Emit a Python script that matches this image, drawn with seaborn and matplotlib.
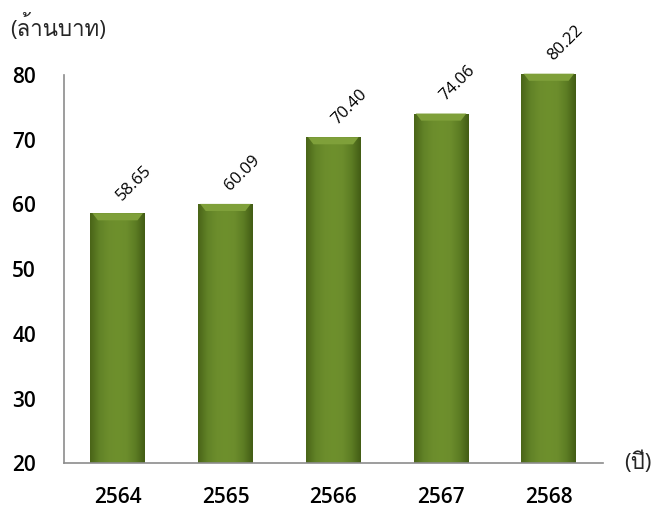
import numpy as np
import pandas as pd
import seaborn as sns
import matplotlib.pyplot as plt
from matplotlib import font_manager
from matplotlib.colors import LinearSegmentedColormap
from fontTools.ttLib import TTFont

# Data
years = ['2564', '2565', '2566', '2567', '2568']
values = [58.65, 60.09, 70.40, 74.06, 80.22]
y_label = '(ล้านบาท)'
x_label = '(ปี)'

df = pd.DataFrame({'year': years, 'value': values})

# look for installed families that can draw Thai
thai_fams = []
for f in font_manager.fontManager.ttflist:
    try:
        cmap = TTFont(f.fname, fontNumber=0, lazy=True).getBestCmap()
    except Exception:
        continue
    if cmap and 0x0E1A in cmap and f.name not in thai_fams:
        thai_fams.append(f.name)

sns.set_style('white')
plt.rcParams['font.family'] = ['Open Sans', 'Noto Sans'] + thai_fams + ['DejaVu Sans']

fig = plt.figure(figsize=(6.58, 5.17), dpi=100)
ax = fig.add_axes([0.097, 0.104, 0.819, 0.757])

sns.barplot(data=df, x='year', y='value', color='#6b8a2a', width=0.51,
            saturation=1, ax=ax)

# cylinder-like shading on each bar
bar_cmap = LinearSegmentedColormap.from_list(
    'bar', ['#4a6518', '#618227', '#6c8d2c', '#6e902d', '#6c8d2c', '#5d7d24', '#435d15'])
grad = np.linspace(0, 1, 64).reshape(1, -1)
for p in ax.patches:
    x0, w = p.get_x(), p.get_width()
    y1 = p.get_height()
    p.set_facecolor('none')
    p.set_edgecolor('none')
    im = ax.imshow(grad, cmap=bar_cmap, aspect='auto', extent=(x0, x0 + w, 20, y1),
                   interpolation='bicubic', zorder=2)
    im.set_clip_path(p)
    # lighter bevel at the top
    ax.fill([x0 + w * 0.04, x0 + w * 0.96, x0 + w * 0.86, x0 + w * 0.14],
            [y1, y1, y1 - 1.1, y1 - 1.1], color='#7fa03a', lw=0, zorder=3)

for i, v in enumerate(values):
    ax.annotate(f'{v:.2f}', (i, v), xytext=(12, 22), textcoords='offset points',
                rotation=45, ha='center', va='center', fontsize=12, color='black')

ax.set_xlim(-0.5, 4.5)
ax.set_ylim(20, 80.5)
ax.set_yticks(range(20, 81, 10))
ax.spines['left'].set_bounds(20, 80)
for s in ['top', 'right']:
    ax.spines[s].set_visible(False)
for s in ['left', 'bottom']:
    ax.spines[s].set_color('#8c8c8c')
    ax.spines[s].set_linewidth(1.2)

ax.set_xlabel('')
ax.set_ylabel('')
ax.tick_params(axis='y', length=7, width=1.2, color='#8c8c8c', pad=13,
               labelsize=15, labelcolor='black')
ax.set_xticks(np.arange(-0.5, 5, 1), minor=True)
ax.tick_params(axis='x', which='minor', length=10, width=1.2, color='#8c8c8c',
               direction='out')
ax.tick_params(axis='x', which='major', length=0, pad=17, labelsize=15,
               labelcolor='black')
for lab in ax.get_xticklabels() + ax.get_yticklabels():
    lab.set_fontweight('semibold')

fig.text(0.015, 0.946, y_label, fontsize=16, va='center', ha='left')
fig.text(0.948, 0.104, x_label, fontsize=16, va='center', ha='left')

fig.savefig('out.png', dpi=100)
